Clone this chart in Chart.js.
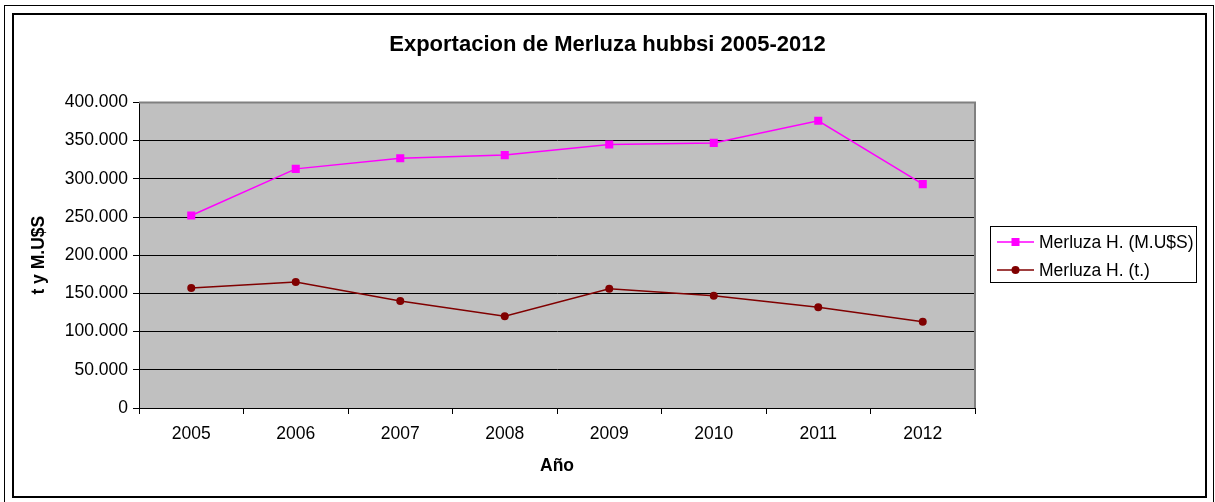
<!DOCTYPE html>
<html>
<head>
<meta charset="utf-8">
<script src="https://cdn.jsdelivr.net/npm/chart.js@4/dist/chart.umd.min.js"></script>
<style>
  html, body { margin: 0; padding: 0; background: #fff; }
  #wrap { width: 1215px; height: 502px; }
</style>
</head>
<body>
<div id="wrap"><canvas id="c" width="1215" height="502"></canvas></div>
<script>
const categories = ['2005', '2006', '2007', '2008', '2009', '2010', '2011', '2012'];
const valueSeries = [252000, 313000, 327000, 331000, 345000, 347000, 376000, 293000];
const tonnageSeries = [157000, 165000, 140000, 120000, 156000, 147000, 132000, 113000];
const seriesNames = ['Merluza H. (M.U$S)', 'Merluza H. (t.)'];
const yTicks = { min: 0, max: 400000, step: 50000 };
const titleText = 'Exportacion de Merluza hubbsi 2005-2012';
const xTitle = 'Año';
const yTitle = 't y M.U$S';

const FONT = "'Liberation Sans', Arial, sans-serif";

function fmt(v) {
  if (v === 0) return '0';
  return String(Math.round(v)).replace(/\B(?=(\d{3})+(?!\d))/g, '.');
}

const framePlugin = {
  id: 'frame',
  beforeDraw(chart) {
    const ctx = chart.ctx;
    const a = chart.chartArea;
    ctx.save();
    ctx.fillStyle = '#ffffff';
    ctx.fillRect(0, 0, chart.width, chart.height);
    ctx.strokeStyle = '#000';
    ctx.lineWidth = 1;
    ctx.strokeRect(4.5, 5.5, 1209, 500);
    ctx.lineWidth = 2;
    ctx.strokeRect(13, 14, 1193, 483);
    ctx.fillStyle = '#C0C0C0';
    ctx.fillRect(a.left, a.top, a.right - a.left, a.bottom - a.top);
    ctx.restore();
  },
  beforeDatasetsDraw(chart) {
    const ctx = chart.ctx;
    const a = chart.chartArea;
    ctx.save();
    ctx.strokeStyle = '#808080';
    ctx.lineWidth = 2;
    ctx.beginPath();
    ctx.moveTo(a.left, a.top);
    ctx.lineTo(a.right, a.top);
    ctx.lineTo(a.right, a.bottom);
    ctx.stroke();
    ctx.restore();
  },
  afterDraw(chart) {
    const ctx = chart.ctx;
    const ds = chart.data.datasets;
    ctx.save();
    ctx.strokeStyle = '#000';
    ctx.lineWidth = 1;
    ctx.strokeRect(990.5, 226.5, 206, 56);
    const rows = [242, 270];
    ds.forEach((d, i) => {
      const y = rows[i];
      ctx.strokeStyle = d.borderColor;
      ctx.lineWidth = d.borderWidth;
      ctx.beginPath();
      ctx.moveTo(997, y);
      ctx.lineTo(1034, y);
      ctx.stroke();
      ctx.fillStyle = d.pointBackgroundColor;
      if (d.pointStyle === 'rect') {
        ctx.fillRect(1015.5 - 4, y - 4, 8, 8);
      } else {
        ctx.beginPath();
        ctx.arc(1015.5, y, 4, 0, Math.PI * 2);
        ctx.fill();
      }
      ctx.fillStyle = '#000';
      ctx.font = '17.5px ' + FONT;
      ctx.textBaseline = 'middle';
      ctx.textAlign = 'left';
      ctx.fillText(d.label, 1039, y + 1);
    });
    ctx.restore();
  }
};

new Chart(document.getElementById('c'), {
  type: 'line',
  data: {
    labels: categories,
    datasets: [
      {
        label: seriesNames[0],
        data: valueSeries,
        borderColor: '#FF00FF',
        backgroundColor: '#FF00FF',
        pointBackgroundColor: '#FF00FF',
        pointBorderColor: '#FF00FF',
        pointStyle: 'rect',
        pointRadius: 5.7,
        pointBorderWidth: 0,
        borderWidth: 1.5,
        tension: 0
      },
      {
        label: seriesNames[1],
        data: tonnageSeries,
        borderColor: '#800000',
        backgroundColor: '#800000',
        pointBackgroundColor: '#800000',
        pointBorderColor: '#800000',
        pointStyle: 'circle',
        pointRadius: 4,
        pointBorderWidth: 0,
        borderWidth: 1.5,
        tension: 0
      }
    ]
  },
  options: {
    responsive: false,
    animation: false,
    devicePixelRatio: 1,
    layout: { padding: 0 },
    plugins: {
      legend: { display: false },
      tooltip: { enabled: false },
      title: {
        display: true,
        text: titleText,
        color: '#000',
        font: { family: FONT, size: 22, weight: 'bold', lineHeight: 1.2 },
        padding: { top: 32, bottom: 44 }
      }
    },
    scales: {
      x: {
        type: 'category',
        offset: true,
        grid: {
          offset: true,
          drawOnChartArea: false,
          drawTicks: true,
          tickLength: 6,
          color: '#000',
          tickColor: '#000'
        },
        border: { display: true, color: '#000', width: 1 },
        ticks: {
          color: '#000',
          font: { family: FONT, size: 17.5, lineHeight: 1.2 },
          padding: 10,
          maxRotation: 0,
          autoSkip: false
        },
        title: {
          display: true,
          text: xTitle,
          color: '#000',
          font: { family: FONT, size: 17.5, weight: 'bold', lineHeight: 1.2 },
          padding: { top: 0, bottom: 25 }
        },
        afterFit(scale) { scale.height = 94; }
      },
      y: {
        min: yTicks.min,
        max: yTicks.max,
        grid: {
          color: '#000',
          lineWidth: 1,
          drawTicks: true,
          tickLength: 6,
          tickColor: '#000'
        },
        border: { display: true, color: '#000', width: 1 },
        ticks: {
          stepSize: yTicks.step,
          color: '#000',
          font: { family: FONT, size: 17.5, lineHeight: 1.2 },
          padding: 5,
          callback: (v) => fmt(v)
        },
        title: {
          display: true,
          text: yTitle,
          color: '#000',
          font: { family: FONT, size: 17.5, weight: 'bold', lineHeight: 1.2 },
          padding: { top: 29, bottom: 0 }
        },
        afterFit(scale) { scale.width = 139; }
      },
      legendSpace: {
        type: 'linear',
        position: 'right',
        display: true,
        min: yTicks.min,
        max: yTicks.max,
        grid: { display: false, drawTicks: false },
        border: { display: false },
        ticks: { display: false },
        afterFit(scale) { scale.width = 240; }
      }
    }
  },
  plugins: [framePlugin]
});
</script>
</body>
</html>
